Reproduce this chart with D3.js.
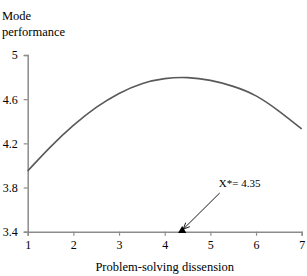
<!DOCTYPE html>
<html><head><meta charset="utf-8">
<script src="https://cdn.jsdelivr.net/npm/d3@7"></script>
<style>body{margin:0;background:#fff}svg{display:block}text{font-family:"Liberation Serif","Times New Roman",serif;fill:#000}</style>
</head><body>
<svg id="c" width="307" height="276"></svg>
<script>
const xValues = [1, 1.5, 2, 2.5, 3, 3.5, 4, 4.5, 5, 5.5, 6, 6.5, 7];
const yValues = [3.950, 4.168, 4.362, 4.525, 4.652, 4.740, 4.786, 4.795, 4.770, 4.716, 4.630, 4.492, 4.330];
const xTicks = [1, 2, 3, 4, 5, 6, 7];
const yTicks = [3.4, 3.8, 4.2, 4.6, 5];
const optimumX = 4.35;
const optimumLabel = "X*= 4.35";
const xTitle = "Problem-solving dissension";
const yTitle = ["Mode", "performance"];

const svg = d3.select("#c");
const x = d3.scaleLinear().domain([1, 7]).range([27.7, 301.7]);
const y = d3.scaleLinear().domain([3.4, 5]).range([231.7, 55]);
const axisCol = "#8c8c8c";

const gx = svg.append("g").attr("transform", `translate(0,${y(3.4)})`)
  .call(d3.axisBottom(x).tickValues(xTicks).tickSize(4).tickPadding(5).tickFormat(d3.format("d")));
const gy = svg.append("g").attr("transform", `translate(${x(1)},0)`)
  .call(d3.axisLeft(y).tickValues(yTicks).tickSize(4).tickPadding(6).tickFormat(d => String(d)));
[gx, gy].forEach(g => {
  g.select(".domain").attr("stroke", axisCol).attr("stroke-width", 1.5);
  g.selectAll(".tick line").attr("stroke", axisCol).attr("stroke-width", 1.2);
  g.selectAll(".tick text").attr("font-family", "Liberation Serif").attr("font-size", 12).attr("fill", "#000");
});

const pts = xValues.map((v, i) => [v, yValues[i]]);
svg.append("path").datum(pts)
  .attr("fill", "none").attr("stroke", "#595959").attr("stroke-width", 1.6)
  .attr("d", d3.line().x(d => x(d[0])).y(d => y(d[1])).curve(d3.curveNatural));

// triangle marker at optimum
const mx = x(optimumX), my = y(3.4);
svg.append("path").attr("d", d3.symbol(d3.symbolTriangle, 30)())
  .attr("transform", `translate(${mx + 1.5},${my - 1})`).attr("fill", "#000");

// arrow
svg.append("defs").append("marker").attr("id", "ah").attr("viewBox", "0 0 10 10")
  .attr("refX", 9).attr("refY", 5).attr("markerWidth", 8).attr("markerHeight", 8)
  .attr("orient", "auto").append("path").attr("d", "M0,1 L9,5 L0,9").attr("fill", "none").attr("stroke", "#000").attr("stroke-width", 1.2);
svg.append("line").attr("x1", mx + 39).attr("y1", 193).attr("x2", mx + 2.5).attr("y2", my - 2.5)
  .attr("stroke", "#000").attr("stroke-width", 0.9).attr("marker-end", "url(#ah)");
svg.append("text").attr("x", mx + 59).attr("y", 187).attr("text-anchor", "middle")
  .attr("font-size", 11).text(optimumLabel);

svg.append("text").attr("x", x(4)).attr("y", 271).attr("text-anchor", "middle").attr("font-size", 12.5).text(xTitle);
svg.append("text").attr("x", 2).attr("y", 20).attr("font-size", 12.5).text(yTitle[0]);
svg.append("text").attr("x", 2).attr("y", 36).attr("font-size", 12.5).text(yTitle[1]);
</script>
</body></html>
